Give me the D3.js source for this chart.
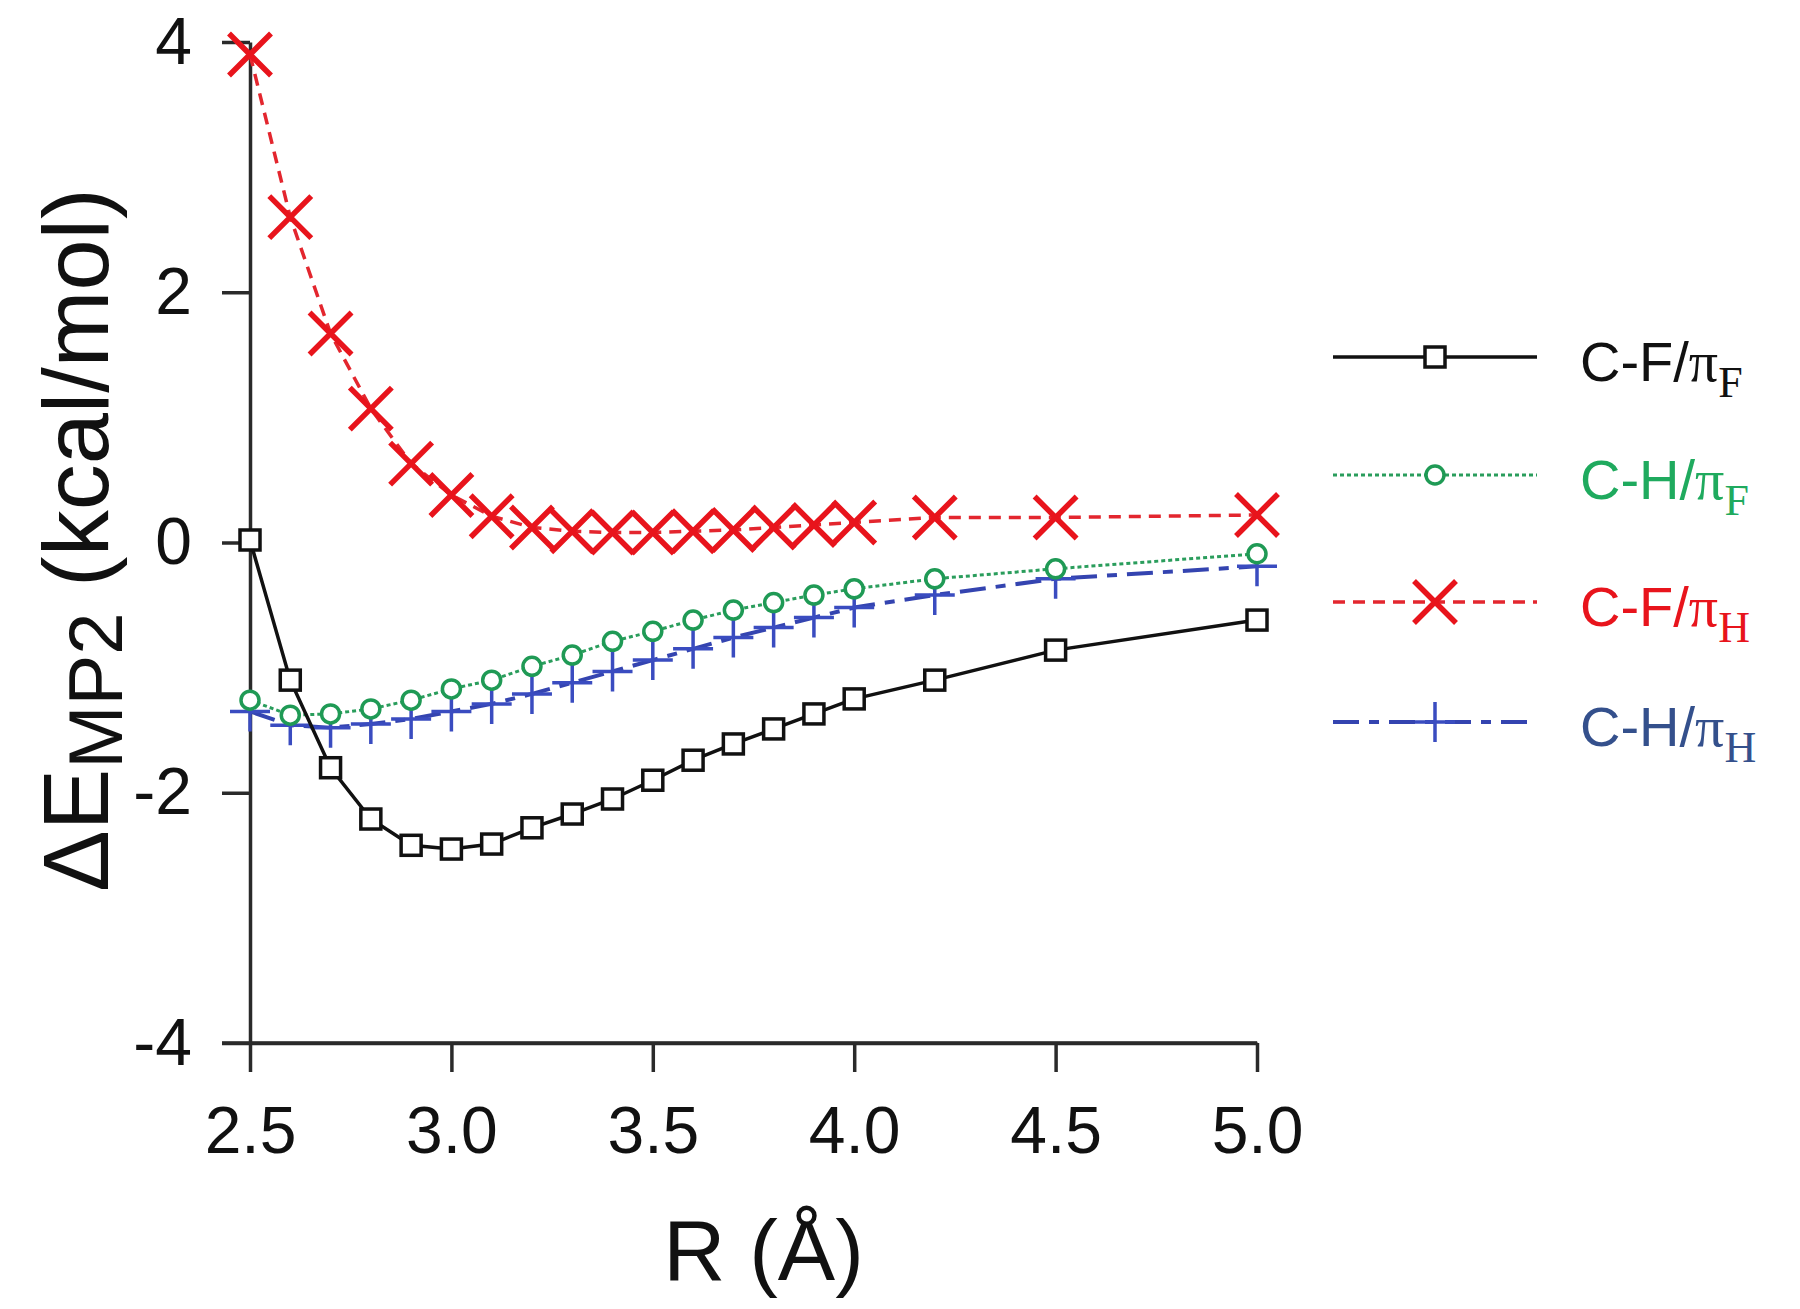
<!DOCTYPE html>
<html>
<head>
<meta charset="utf-8">
<script src="https://cdn.jsdelivr.net/npm/d3@7"></script>
<style>
  html, body { margin: 0; padding: 0; background: #fff; }
  svg { display: block; font-family: "Liberation Sans", Arial, sans-serif; }
</style>
</head>
<body>
<svg id="chart" width="1800" height="1309"></svg>
<script>
// ---- data ----
const R = [2.5, 2.6, 2.7, 2.8, 2.9, 3.0, 3.1, 3.2, 3.3, 3.4, 3.5, 3.6, 3.7, 3.8, 3.9, 4.0, 4.2, 4.5, 5.0];
const CF_piF = [0.02, -1.10, -1.80, -2.21, -2.42, -2.45, -2.41, -2.28, -2.17, -2.05, -1.90, -1.74, -1.61, -1.49, -1.37, -1.25, -1.10, -0.86, -0.62];
const CH_piF = [-1.26, -1.38, -1.37, -1.33, -1.26, -1.17, -1.10, -0.99, -0.90, -0.79, -0.71, -0.62, -0.54, -0.48, -0.42, -0.37, -0.29, -0.21, -0.09];
const CF_piH = [3.90, 2.60, 1.67, 1.07, 0.63, 0.38, 0.21, 0.12, 0.09, 0.08, 0.08, 0.09, 0.10, 0.12, 0.14, 0.16, 0.20, 0.20, 0.22];
const CH_piH = [-1.35, -1.46, -1.48, -1.45, -1.41, -1.35, -1.29, -1.21, -1.12, -1.03, -0.94, -0.85, -0.76, -0.68, -0.60, -0.52, -0.42, -0.29, -0.19];
const xTicks = [2.5, 3.0, 3.5, 4.0, 4.5, 5.0];
const xTickLabels = ["2.5", "3.0", "3.5", "4.0", "4.5", "5.0"];
const yTicks = [-4, -2, 0, 2, 4];
const yTickLabels = ["-4", "-2", "0", "2", "4"];
const seriesNames = ["C-F/π|F", "C-H/π|F", "C-F/π|H", "C-H/π|H"];

// ---- styles ----
const styles = [
  { key: "CF_piF", values: CF_piF, line: "#111", text: "#111", dash: null, width: 3.5, marker: "square", mcolor: "#111" },
  { key: "CH_piF", values: CH_piF, line: "#2a9d5c", text: "#1faa5e", dash: "4,3", width: 3, marker: "circle", mcolor: "#1f9a55" },
  { key: "CF_piH", values: CF_piH, line: "#e3262e", text: "#e8141c", dash: "12,8", width: 3.5, marker: "x", mcolor: "#e8141c" },
  { key: "CH_piH", values: CH_piH, line: "#3444b0", text: "#34508c", dash: "26,10,10,10", width: 4, marker: "plus", mcolor: "#3a4cc0" }
];

const svg = d3.select("#chart");
const x = d3.scaleLinear().domain([2.5, 5.0]).range([250, 1257]);
const y = d3.scaleLinear().domain([-4, 4]).range([1043, 42]);

// axes
const axisColor = "#2a2a2a";
const gx = svg.append("g").attr("transform", `translate(0,${y(-4)})`)
  .call(d3.axisBottom(x).tickValues(xTicks).tickFormat((d, i) => xTickLabels[i]).tickSize(29).tickSizeOuter(0).tickPadding(34));
const gy = svg.append("g").attr("transform", `translate(${x(2.5)},0)`)
  .call(d3.axisLeft(y).tickValues(yTicks).tickFormat((d, i) => yTickLabels[i]).tickSize(28).tickSizeOuter(0).tickPadding(30));
[gx, gy].forEach(g => {
  g.select(".domain").attr("stroke", axisColor).attr("stroke-width", 3.5);
  g.selectAll(".tick line").attr("stroke", axisColor).attr("stroke-width", 3.5);
  g.selectAll(".tick text").attr("fill", "#111").style("font-size", "66px").style("font-family", "'Liberation Sans', Arial, sans-serif");
});
// extend x axis line left to the -4 tick
svg.append("line").attr("x1", x(2.5) - 28).attr("x2", x(5.0)).attr("y1", y(-4)).attr("y2", y(-4))
  .attr("stroke", axisColor).attr("stroke-width", 3.5);

// axis titles
svg.append("text").attr("x", (x(2.5) + x(5.0)) / 2 + 10).attr("y", 1280)
  .attr("text-anchor", "middle").style("font-size", "86px").attr("fill", "#111").text("R (Å)");

const yt = svg.append("text").attr("transform", `translate(108,540) rotate(-90)`)
  .attr("text-anchor", "middle").attr("fill", "#111").style("font-size", "92px");
yt.append("tspan").text("ΔE");
yt.append("tspan").attr("dy", 14).style("font-size", "76px").text("MP2");
yt.append("tspan").attr("dy", -14).text(" (kcal/mol)");

// markers
function drawMarker(g, type, color, cx, cy) {
  if (type === "square") {
    g.append("rect").attr("x", cx - 10).attr("y", cy - 10).attr("width", 20).attr("height", 20)
      .attr("fill", "#fff").attr("stroke", color).attr("stroke-width", 3.5);
  } else if (type === "circle") {
    g.append("circle").attr("cx", cx).attr("cy", cy).attr("r", 9)
      .attr("fill", "#fff").attr("stroke", color).attr("stroke-width", 3.5);
  } else if (type === "x") {
    const s = 21;
    g.append("path").attr("d", `M${cx - s},${cy - s}L${cx + s},${cy + s}M${cx - s},${cy + s}L${cx + s},${cy - s}`)
      .attr("stroke", color).attr("stroke-width", 5.5).attr("fill", "none");
  } else if (type === "plus") {
    const s = 20;
    g.append("path").attr("d", `M${cx - s},${cy}L${cx + s},${cy}M${cx},${cy - s}L${cx},${cy + s}`)
      .attr("stroke", color).attr("stroke-width", 3.5).attr("fill", "none");
  }
}

const line = d3.line().x(d => x(d[0])).y(d => y(d[1]));
const order = [3, 1, 0, 2];
order.forEach(i => {
  const s = styles[i];
  const pts = R.map((r, k) => [r, s.values[k]]);
  const g = svg.append("g");
  g.append("path").datum(pts).attr("d", line).attr("fill", "none")
    .attr("stroke", s.line).attr("stroke-width", s.width)
    .attr("stroke-dasharray", s.dash);
  pts.forEach(p => drawMarker(g, s.marker, s.mcolor, x(p[0]), y(p[1])));
});

// legend
const legendY = [357, 475, 602, 722];
styles.forEach((s, i) => {
  const g = svg.append("g");
  const ly = legendY[i];
  g.append("line").attr("x1", 1333).attr("x2", 1537).attr("y1", ly).attr("y2", ly)
    .attr("stroke", s.line).attr("stroke-width", s.width).attr("stroke-dasharray", s.dash);
  drawMarker(g, s.marker, s.mcolor, 1435, ly);
  const parts = seriesNames[i].split("|");
  const t = g.append("text").attr("x", 1580).attr("y", ly + 24).attr("fill", s.text).style("font-size", "56px");
  t.append("tspan").text(parts[0].replace("π", ""));
  t.append("tspan").style("font-family", "'Liberation Serif', 'Times New Roman', serif").style("font-size", "58px").text("π");
  t.append("tspan").attr("dy", 16).style("font-family", "'Liberation Serif', 'Times New Roman', serif").style("font-size", "44px").text(parts[1]);
});
</script>
</body>
</html>
